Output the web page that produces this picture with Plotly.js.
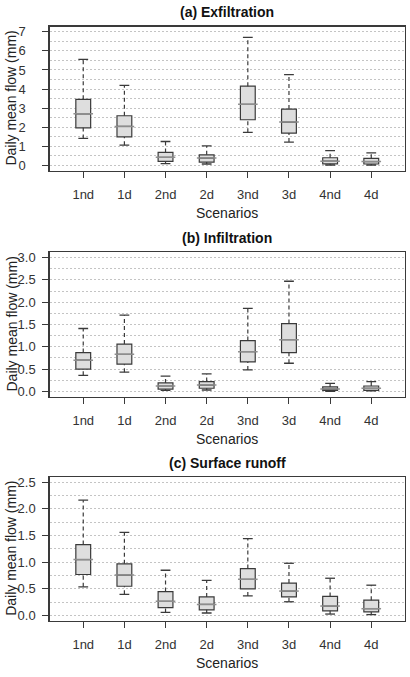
<!DOCTYPE html>
<html>
<head>
<meta charset="utf-8">
<script src="https://cdn.plot.ly/plotly-3.0.1.min.js"></script>
<style>
  html, body { margin: 0; padding: 0; background: #ffffff; }
  #chart { width: 410px; height: 677px; }
</style>
</head>
<body>
<div id="chart"></div>
<script>
// Scenario labels shared by all three panels
const scenarios = ['1nd', '1d', '2nd', '2d', '3nd', '3d', '4nd', '4d'];

// (a) Exfiltration: daily mean flow (mm)
const exfilLow    = [1.41, 1.06, 0.09, 0.07, 1.73, 1.22, 0.02, 0.02];
const exfilQ1     = [1.97, 1.49, 0.21, 0.17, 2.39, 1.69, 0.08, 0.07];
const exfilMedian = [2.70, 2.04, 0.42, 0.38, 3.20, 2.27, 0.22, 0.20];
const exfilQ3     = [3.46, 2.60, 0.68, 0.55, 4.15, 2.95, 0.40, 0.37];
const exfilHigh   = [5.56, 4.19, 1.25, 1.02, 6.71, 4.76, 0.77, 0.65];

// (b) Infiltration
const infilLow    = [0.36, 0.43, 0.02, 0.03, 0.48, 0.63, 0.00, 0.01];
const infilQ1     = [0.50, 0.61, 0.05, 0.07, 0.66, 0.87, 0.02, 0.02];
const infilMedian = [0.70, 0.83, 0.12, 0.14, 0.89, 1.16, 0.05, 0.07];
const infilQ3     = [0.87, 1.06, 0.19, 0.22, 1.14, 1.52, 0.10, 0.12];
const infilHigh   = [1.41, 1.71, 0.34, 0.39, 1.86, 2.47, 0.18, 0.22];

// (c) Surface runoff
const runoffLow    = [0.54, 0.40, 0.06, 0.05, 0.37, 0.26, 0.03, 0.02];
const runoffQ1     = [0.77, 0.55, 0.15, 0.11, 0.50, 0.35, 0.09, 0.07];
const runoffMedian = [1.05, 0.76, 0.27, 0.21, 0.68, 0.46, 0.18, 0.13];
const runoffQ3     = [1.33, 0.97, 0.45, 0.35, 0.88, 0.61, 0.36, 0.29];
const runoffHigh   = [2.16, 1.56, 0.85, 0.66, 1.44, 0.98, 0.70, 0.57];

const panelTitles = ['(a) Exfiltration', '(b) Infiltration', '(c) Surface runoff'];
const xTitle = 'Scenarios';
const yTitle = 'Daily mean flow (mm)';

// ---- styling / geometry ----
const W = 410, H = 677;
const FONT = '"Liberation Sans", Arial, Helvetica, sans-serif';
const INK = '#3a3a3a';
const px = v => v / W;          // pixel -> paper x
const py = v => 1 - v / H;      // pixel -> paper y

const plotLeft = 49.5, plotRight = 405;
const panels = [
  { low: exfilLow,  q1: exfilQ1,  med: exfilMedian,  q3: exfilQ3,  high: exfilHigh,
    top: 26.5, bottom: 170.7, range: [-0.28, 7.28], dtick: 1,   minor: 0.5,  fmt: 'd',  standoff: 14 },
  { low: infilLow,  q1: infilQ1,  med: infilMedian,  q3: infilQ3,  high: infilHigh,
    top: 252.3, bottom: 396.7, range: [-0.12, 3.12], dtick: 0.5, minor: 0.25, fmt: '.1f', standoff: 4 },
  { low: runoffLow, q1: runoffQ1, med: runoffMedian, q3: runoffQ3, high: runoffHigh,
    top: 476.7, bottom: 621, range: [-0.10, 2.60], dtick: 0.5, minor: 0.25, fmt: '.1f', standoff: 4 }
];

const traces = [];
const layout = {
  width: W, height: H,
  margin: { l: 0, r: 0, t: 0, b: 0 },
  paper_bgcolor: '#ffffff',
  plot_bgcolor: '#ffffff',
  showlegend: false,
  font: { family: FONT, color: '#222222', size: 13 },
  annotations: []
};

panels.forEach((p, i) => {
  const n = i === 0 ? '' : String(i + 1);
  const xa = 'x' + n, ya = 'y' + n;

  // boxes (whiskers are drawn separately as dashed segments)
  traces.push({
    type: 'box', xaxis: xa, yaxis: ya,
    x: scenarios, q1: p.q1, median: p.med, q3: p.q3,
    lowerfence: p.q1, upperfence: p.q3,
    width: 0.36, whiskerwidth: 0, boxpoints: false,
    fillcolor: '#dedede', line: { color: INK, width: 1.2 },
    hoverinfo: 'skip'
  });

  // dashed whiskers: Q3 -> upper, lower -> Q1
  const wx = [], wy = [];
  scenarios.forEach((c, k) => {
    wx.push(c, c, null, c, c, null);
    wy.push(p.q3[k], p.high[k], null, p.low[k], p.q1[k], null);
  });
  traces.push({
    type: 'scatter', mode: 'lines', xaxis: xa, yaxis: ya,
    x: wx, y: wy, connectgaps: false,
    line: { color: INK, width: 1.2, dash: '4px,3px' },
    hoverinfo: 'skip'
  });

  // whisker caps
  traces.push({
    type: 'scatter', mode: 'markers', xaxis: xa, yaxis: ya,
    x: scenarios.concat(scenarios), y: p.low.concat(p.high),
    marker: { symbol: 'line-ew', size: 7, line: { color: INK, width: 1.3 } },
    hoverinfo: 'skip'
  });

  // medians in a lighter grey
  traces.push({
    type: 'scatter', mode: 'markers', xaxis: xa, yaxis: ya,
    x: scenarios, y: p.med,
    marker: { symbol: 'line-ew', size: 14, line: { color: '#8e8e8e', width: 1.5 } },
    hoverinfo: 'skip'
  });

  layout['xaxis' + n] = {
    anchor: ya, domain: [px(plotLeft), px(plotRight)],
    type: 'category', range: [-0.82, 7.82], fixedrange: true,
    showgrid: false, zeroline: false,
    showline: true, mirror: true, linecolor: INK, linewidth: 1.2,
    ticks: 'outside', ticklen: 6, tickwidth: 1, tickcolor: INK,
    ticklabelstandoff: 5,
    tickfont: { family: FONT, size: 13, color: '#333333' },
    automargin: false
  };
  layout['yaxis' + n] = {
    anchor: xa, domain: [py(p.bottom), py(p.top)],
    range: p.range, fixedrange: true,
    tickmode: 'linear', tick0: 0, dtick: p.dtick, tickformat: p.fmt,
    showgrid: true, gridcolor: '#c4c4c4', gridwidth: 1, griddash: '2px,2px',
    minor: { dtick: p.minor, tick0: 0, showgrid: true, gridcolor: '#c4c4c4', gridwidth: 1, griddash: '2px,2px', ticks: '' },
    zeroline: false,
    showline: true, mirror: true, linecolor: INK, linewidth: 1.2,
    ticks: 'outside', ticklen: 6, tickwidth: 1, tickcolor: INK,
    ticklabelstandoff: p.standoff,
    tickfont: { family: FONT, size: 13, color: '#333333' },
    automargin: false
  };

  const cx = (plotLeft + plotRight) / 2;
  // panel title
  layout.annotations.push({
    xref: 'paper', yref: 'paper', x: px(cx), y: py(p.top - 14),
    xanchor: 'center', yanchor: 'middle', showarrow: false,
    text: '<b>' + panelTitles[i] + '</b>',
    font: { family: FONT, size: 14, color: '#111111' }
  });
  // x axis title
  layout.annotations.push({
    xref: 'paper', yref: 'paper', x: px(cx), y: py(p.bottom + 42.3),
    xanchor: 'center', yanchor: 'middle', showarrow: false,
    text: xTitle, font: { family: FONT, size: 14, color: '#222222' }
  });
  // y axis title
  layout.annotations.push({
    xref: 'paper', yref: 'paper', x: px(11), y: py((p.top + p.bottom) / 2),
    xanchor: 'center', yanchor: 'middle', showarrow: false, textangle: -90,
    text: yTitle, font: { family: FONT, size: 14, color: '#222222' }
  });
});

Plotly.newPlot('chart', traces, layout, { staticPlot: true, displayModeBar: false });
</script>
</body>
</html>
